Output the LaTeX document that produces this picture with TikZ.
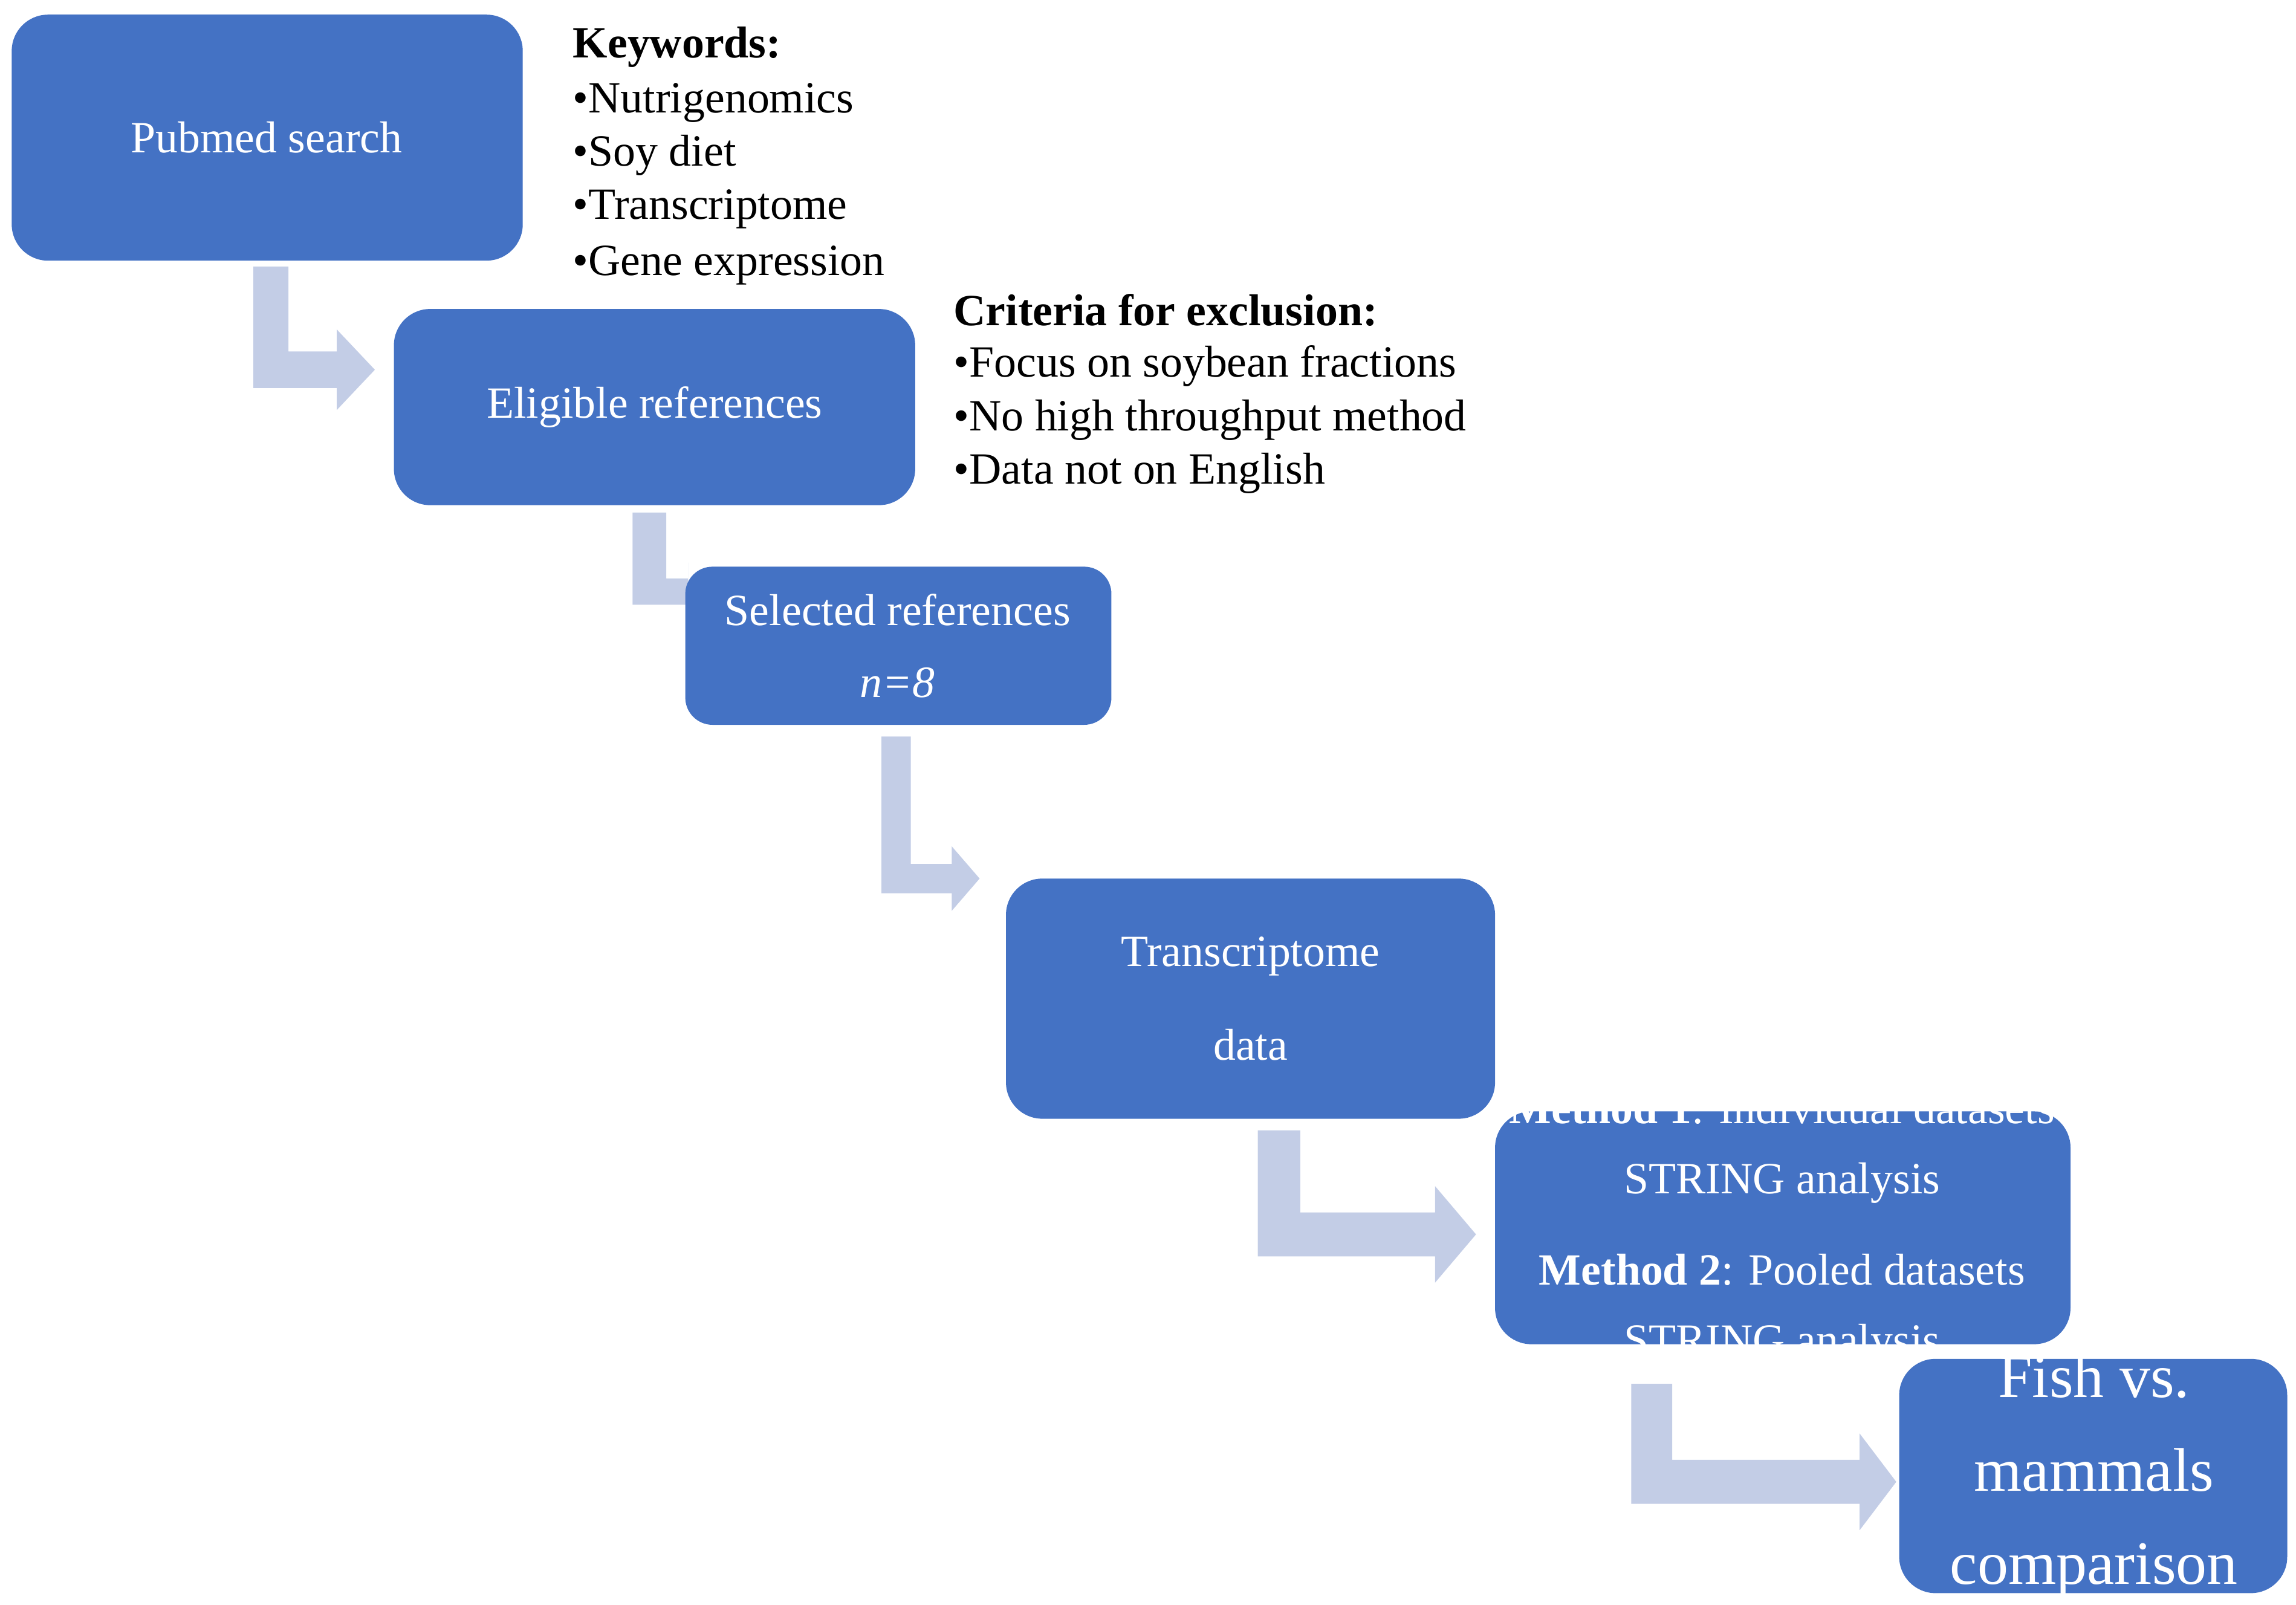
\documentclass[tikz,border=0pt]{standalone}
\usepackage{fontspec}
\setmainfont{Liberation Serif}
\definecolor{boxblue}{HTML}{4472C4}
\definecolor{arr}{HTML}{C3CDE6}
\begin{document}
\begin{tikzpicture}[x=0.02422cm,y=-0.02422cm,
  box/.style={fill=boxblue,rounded corners=0.6cm,draw=none},
  wt/.style={text=white,font=\fontsize{21}{30}\selectfont,align=center},
  bt/.style={anchor=west,font=\fontsize{21}{25}\selectfont,inner sep=0pt}]
\useasboundingbox (0,0) rectangle (1568,1096);
% arrows
\newcommand\bentarrow[7]{% xl xr ytop ybarTop ybarBot xheadbase xtip
  \fill[arr] (#1,#3) -- (#2,#3) -- (#2,#4) -- (#6,#4) -- (#6,{#4-(#5-#4)*0.6}) -- (#7,{(#4+#5)/2}) -- (#6,{#5+(#5-#4)*0.6}) -- (#6,#5) -- (#1,#5) -- cycle;}
\bentarrow{173}{197}{182}{240}{265}{230}{256}
\bentarrow{432}{455}{350}{395}{413}{470}{470}
\bentarrow{602}{622}{503}{590}{610}{650}{669}
\bentarrow{859}{888}{772}{828}{858}{980}{1008}
\bentarrow{1114}{1142}{945}{997}{1027}{1270}{1295}
% boxes
\fill[box] (8,10) rectangle (357,178);
\node[wt] (pub) at (182,94) {Pubmed search};
\fill[box] (269,211) rectangle (625,345);
\node[wt] (eli) at (447,278) {Eligible references};
\fill[box,rounded corners=0.45cm] (468,387) rectangle (759,495);
\node[wt] (sel) at (613,441) {Selected references\\[4pt]\textit{n=8}};
\fill[box] (687,600) rectangle (1021,764);
\node[wt,font=\fontsize{21}{44}\selectfont] (tr) at (854,682) {Transcriptome\\data};
\fill[box] (1021,759) rectangle (1414,918);
\node[wt,font=\fontsize{21}{33}\selectfont] (meth) at (1217,839) {\textbf{Method 1}: Individual datasets\\STRING analysis\\[10pt]\textbf{Method 2}: Pooled datasets\\STRING analysis};
\fill[box] (1297,928) rectangle (1562,1088);
\node[wt,font=\fontsize{29}{44}\selectfont] (fish) at (1430,1008) {Fish vs.\\mammals\\comparison};
% lists
\node[bt] (k0) at (391,32) {\textbf{Keywords:}};
\node[bt] (k1) at (391,70) {•Nutrigenomics};
\node[bt] (k2) at (391,106) {•Soy diet};
\node[bt] (k3) at (391,143) {•Transcriptome};
\node[bt] (k4) at (391,181) {•Gene expression};
\node[bt] (c0) at (651,212) {\textbf{Criteria for exclusion:}};
\node[bt] (c1) at (651,250) {•Focus on soybean fractions};
\node[bt] (c2) at (651,287) {•No high throughput method};
\node[bt] (c3) at (651,323) {•Data not on English};
\end{tikzpicture}
\end{document}
